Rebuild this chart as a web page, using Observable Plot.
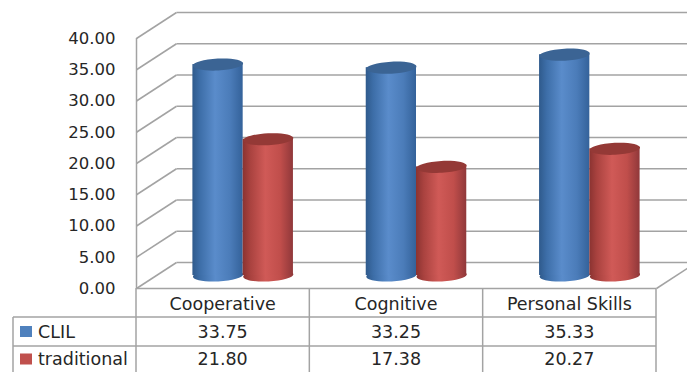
<!DOCTYPE html>
<html><head><meta charset="utf-8">
<script src="https://cdn.jsdelivr.net/npm/d3@7"></script>
<script src="https://cdn.jsdelivr.net/npm/@observablehq/plot@0.6"></script>
<style>html,body{margin:0;padding:0;background:#fff;overflow:hidden}</style>
</head><body><div id="chart"></div>
<script>
const categories = ["Cooperative", "Cognitive", "Personal Skills"];
const seriesNames = ["CLIL", "traditional"];
const clilValues = [33.75, 33.25, 35.33];
const traditionalValues = [21.80, 17.38, 20.27];
const yTicks = [0, 5, 10, 15, 20, 25, 30, 35, 40];

const W = 687, H = 372;
const M = {left: 136, right: 31, top: 38, bottom: 84};
const unitPx = (W - M.left - M.right) / categories.length;
const yPx = (H - M.top - M.bottom) / 40;
const depthX = 40 / unitPx;
const depthY = 26 / yPx;
const barW = 0.29;
const barRx = barW * unitPx / 2;
const barRy = 6;
const gridColor = "#a3a3a3";
const textColor = "#262626";
const fmt = d3.format(".2f");

const seriesStyles = [
  {grad: "gblue", top: "#3b6494", legend: "#4f81bd", offset: -barW / 2},
  {grad: "gred", top: "#943936", legend: "#c0504d", offset: barW / 2}
];
const seriesValues = [clilValues, traditionalValues];

function ellipse(rx, ry, angle) {
  const k = 0.5523, c = Math.cos(angle), s = Math.sin(angle);
  const p = ([x, y]) => [x * c - y * s, x * s + y * c];
  const pts = [[rx,0],[rx,k*ry],[k*rx,ry],[0,ry],[-k*rx,ry],[-rx,k*ry],[-rx,0],[-rx,-k*ry],[-k*rx,-ry],[0,-ry],[k*rx,-ry],[rx,-k*ry],[rx,0]].map(p);
  return {draw(ctx) {
    ctx.moveTo(pts[0][0], pts[0][1]);
    for (let j = 1; j < pts.length; j += 3) ctx.bezierCurveTo(...pts[j], ...pts[j+1], ...pts[j+2]);
    ctx.closePath();
  }};
}
const ellSym = ellipse(barRx, barRy, -0.05);

const barMarks = seriesNames.flatMap((name, si) => {
  const st = seriesStyles[si];
  const rows = seriesValues[si].map((v, i) => ({name, i, v, cx: i + 0.5 + depthX / 2 + st.offset, base: depthY / 2}));
  return [
    Plot.dot(rows, {x: "cx", y: "base", symbol: ellSym, r: 3, fill: `url(#${st.grad})`}),
    Plot.rect(rows, {x1: d => d.cx - barW / 2, x2: d => d.cx + barW / 2, y1: "base", y2: d => d.base + d.v, fill: `url(#${st.grad})`}),
    Plot.dot(rows, {x: "cx", y: d => d.base + d.v, symbol: ellSym, r: 3, fill: st.top})
  ];
});

function tableMark(index, scales) {
  const x = scales.x, y0 = scales.y(0);
  const rowTops = [y0, y0 + 29, y0 + 58];
  const legendLeft = 13;
  const g = d3.create("svg:g").attr("font-size", 17.5);
  const line = (x1, y1, x2, y2) => g.append("line").attr("x1", x1).attr("y1", y1).attr("x2", x2).attr("y2", y2)
    .attr("stroke", gridColor).attr("stroke-width", 1.5);
  for (let i = 0; i <= categories.length; i++) line(x(i), y0, x(i), H);
  line(legendLeft, rowTops[1], legendLeft, H);
  line(legendLeft, rowTops[1], x(categories.length), rowTops[1]);
  line(legendLeft, rowTops[2], x(categories.length), rowTops[2]);
  const centers = [(rowTops[0] + rowTops[1]) / 2 + 1, (rowTops[1] + rowTops[2]) / 2, (rowTops[2] + H) / 2];
  const txt = (tx, ty, s, anchor) => g.append("text").attr("x", tx).attr("y", ty).attr("dy", "0.36em")
    .attr("text-anchor", anchor).attr("fill", textColor).text(s);
  categories.forEach((c, i) => txt(x(i + 0.5), centers[0], c, "middle"));
  seriesValues.forEach((vals, si) => {
    vals.forEach((v, i) => txt(x(i + 0.5), centers[si + 1], fmt(v), "middle"));
    g.append("rect").attr("x", 20).attr("y", centers[si + 1] - 5.5).attr("width", 12).attr("height", 11).attr("fill", seriesStyles[si].legend);
    txt(38, centers[si + 1], seriesNames[si], "start");
  });
  return g.node();
}

const svg = Plot.plot({
  width: W, height: H,
  marginLeft: M.left, marginRight: M.right, marginTop: M.top, marginBottom: M.bottom,
  x: {domain: [0, 3], axis: null},
  y: {domain: [0, 40]},
  style: {fontFamily: "DejaVu Sans", fontSize: "16px", color: textColor, background: "#fff", overflow: "hidden"},
  marks: [
    Plot.link(yTicks, {x1: depthX, x2: 3 + depthX + 0.5, y1: d => d + depthY, y2: d => d + depthY, stroke: gridColor, strokeWidth: 1.5}),
    Plot.link(yTicks, {x1: 0, x2: depthX, y1: d => d, y2: d => d + depthY, stroke: gridColor, strokeWidth: 1.5}),
    Plot.link([0], {x1: 3, x2: 3 + depthX, y1: 0, y2: depthY, stroke: gridColor, strokeWidth: 1.5}),
    Plot.ruleX([0], {y1: 0, y2: 40, stroke: gridColor, strokeWidth: 1.5}),
    Plot.ruleY([0], {x1: 0, x2: 3, stroke: gridColor, strokeWidth: 1.5}),
    Plot.axisY({ticks: yTicks, tickFormat: fmt, tickSize: 0, tickPadding: 21, fontSize: 16.5, fill: textColor, label: null}),
    ...barMarks,
    tableMark
  ]
});

const defs = d3.select(svg).insert("defs", ":first-child");
const grads = {
  gblue: ["#2f5a8c", "#3d6ea8", "#5a8ccb", "#4b7cb9", "#34629a"],
  gred: ["#8a3331", "#a9423f", "#d05a57", "#c04e4b", "#90383a"]
};
for (const [id, cols] of Object.entries(grads)) {
  const lg = defs.append("linearGradient").attr("id", id).attr("x1", 0).attr("x2", 1).attr("y1", 0).attr("y2", 0);
  [0, 0.15, 0.45, 0.75, 1].forEach((o, j) => lg.append("stop").attr("offset", o).attr("stop-color", cols[j]));
}
document.getElementById("chart").appendChild(svg);
</script>
</body></html>
